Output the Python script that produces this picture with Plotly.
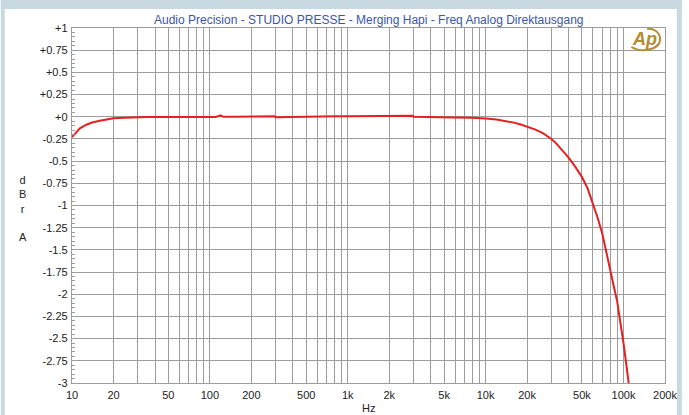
import plotly.graph_objects as go
import numpy as np

# Data
freq_hz = [10, 11.4, 12.7, 14, 15.9, 18, 20, 24, 27.5, 35, 50, 80, 110, 120, 125, 150,
           200, 280, 294, 300, 320, 443, 600, 834, 1000, 1500, 2000, 2900, 2958, 3000,
           3100, 4000, 5000, 6000, 8000, 9000, 10000, 12000, 14000, 16000, 18000, 20000,
           23000, 26000, 28000, 30000, 32500, 35000, 37500, 40000, 45000, 50000, 55000,
           60000, 65000, 70000, 75000, 80000, 85000, 90000, 95000, 100000, 105000, 110000]
level_dbr = [-0.23, -0.13, -0.09, -0.065, -0.045, -0.03, -0.017, -0.01, -0.006, -0.004,
             -0.003, -0.002, -0.002, 0.015, -0.001, -0.001, 0.0, 0.0, 0.006, -0.005,
             -0.004, 0.003, 0.004, 0.005, 0.005, 0.005, 0.005, 0.005, 0.012, 0.0, 0.0,
             -0.003, -0.005, -0.008, -0.012, -0.015, -0.02, -0.032, -0.048, -0.066, -0.087,
             -0.11, -0.145, -0.185, -0.215, -0.25, -0.30, -0.355, -0.41, -0.46, -0.57,
             -0.68, -0.81, -0.97, -1.14, -1.31, -1.51, -1.72, -1.91, -2.08, -2.3, -2.55,
             -2.8, -3.05]

x_tick_vals = [10, 20, 50, 100, 200, 500, 1000, 2000, 5000, 10000, 20000, 50000, 100000, 200000]
x_tick_text = ["10", "20", "50", "100", "200", "500", "1k", "2k", "5k", "10k", "20k", "50k", "100k", "200k"]
y_tick_vals = [1, 0.75, 0.5, 0.25, 0, -0.25, -0.5, -0.75, -1, -1.25, -1.5, -1.75, -2, -2.25, -2.5, -2.75, -3]
y_tick_text = ["+1", "+0.75", "+0.5", "+0.25", "+0", "-0.25", "-0.5", "-0.75", "-1", "-1.25", "-1.5",
               "-1.75", "-2", "-2.25", "-2.5", "-2.75", "-3"]

title_text = "Audio Precision - STUDIO PRESSE - Merging Hapi - Freq Analog Direktausgang"

W, H = 689, 415
L, R, T, B = 72, 672, 28, 383

def px(x):
    return (x - L) / (R - L)

def py(y):
    return (B - y) / (B - T)

minor_x = []
for dec in [10, 100, 1000, 10000, 100000]:
    for m in range(1, 10):
        v = dec * m
        if v <= 200000 and v not in x_tick_vals:
            minor_x.append(v)

grid_col = "#9c9c9c"
font_fam = "Liberation Sans, Arial, sans-serif"
txt_col = "#222222"

fig = go.Figure()
fig.add_trace(go.Scatter(x=freq_hz, y=level_dbr, mode="lines",
                         line=dict(color="#e62020", width=2), showlegend=False,
                         hoverinfo="skip"))

fig.update_xaxes(type="log", range=[1, np.log10(200000)],
                 tickvals=x_tick_vals, ticktext=x_tick_text,
                 showgrid=True, gridcolor=grid_col, gridwidth=1.3,
                 minor=dict(tickvals=minor_x, showgrid=True, gridcolor=grid_col, gridwidth=1.3),
                 showline=True, linecolor=grid_col, linewidth=1.3, mirror=True,
                 ticks="", zeroline=False, ticklabelstandoff=2,
                 tickfont=dict(family=font_fam, size=11, color=txt_col))
fig.update_yaxes(range=[-3, 1], tickvals=y_tick_vals, ticktext=y_tick_text,
                 showgrid=True, gridcolor=grid_col, gridwidth=1.3,
                 showline=True, linecolor=grid_col, linewidth=1.3, mirror=True,
                 ticks="inside", ticklen=5, tickcolor=grid_col,
                 minor=dict(dtick=0.05, ticks="inside", ticklen=3, tickcolor=grid_col, showgrid=False),
                 zeroline=False, ticklabelstandoff=1,
                 tickfont=dict(family=font_fam, size=11, color=txt_col))

band = "#c8d9e2"
gold = "#b38c33"
# swoosh of the AP logo (bezier, paper coords)
sw = [(638, 47), (648, 53), (668, 50), (667, 38), (666, 31), (659, 28), (654, 29)]
sw_p = [(px(a), py(b)) for a, b in sw]
swoosh = "M {:.5f},{:.5f} C {:.5f},{:.5f} {:.5f},{:.5f} {:.5f},{:.5f} C {:.5f},{:.5f} {:.5f},{:.5f} {:.5f},{:.5f}".format(
    *[c for p in sw_p for c in p])

shapes = [
    dict(type="rect", xref="paper", yref="paper", x0=px(0), x1=px(W), y0=py(0), y1=py(9),
         fillcolor=band, line=dict(width=0), layer="below"),
    dict(type="rect", xref="paper", yref="paper", x0=px(0), x1=px(4), y0=py(0), y1=py(H),
         fillcolor=band, line=dict(width=0), layer="below"),
    dict(type="rect", xref="paper", yref="paper", x0=px(684), x1=px(W), y0=py(0), y1=py(H),
         fillcolor=band, line=dict(width=0), layer="below"),
    dict(type="path", xref="paper", yref="paper", path=swoosh,
         line=dict(color=gold, width=2), layer="above"),
]

annotations = [
    dict(text=title_text, xref="paper", yref="paper", x=0.5, y=py(20), xanchor="center",
         yanchor="middle", showarrow=False,
         font=dict(family=font_fam, size=12, color="#3a56a8")),
    dict(text="d<br>B<br>r<br><br>A", xref="paper", yref="paper", x=px(22), y=py(208),
         xanchor="center", yanchor="middle", showarrow=False, align="center",
         font=dict(family=font_fam, size=11, color=txt_col)),
    dict(text="Hz", xref="paper", yref="paper", x=0.5, y=py(408),
         xanchor="center", yanchor="middle", showarrow=False,
         font=dict(family=font_fam, size=11, color=txt_col)),
    dict(text="<b><i>Ap</i></b>", xref="paper", yref="paper", x=px(651), y=py(39),
         xanchor="center", yanchor="middle", showarrow=False,
         font=dict(family=font_fam, size=18, color=gold)),
]

fig.update_layout(width=W, height=H, margin=dict(l=L, r=W - R, t=T, b=H - B),
                  paper_bgcolor="white", plot_bgcolor="white",
                  shapes=shapes, annotations=annotations, showlegend=False)

fig.write_html("out.html")
